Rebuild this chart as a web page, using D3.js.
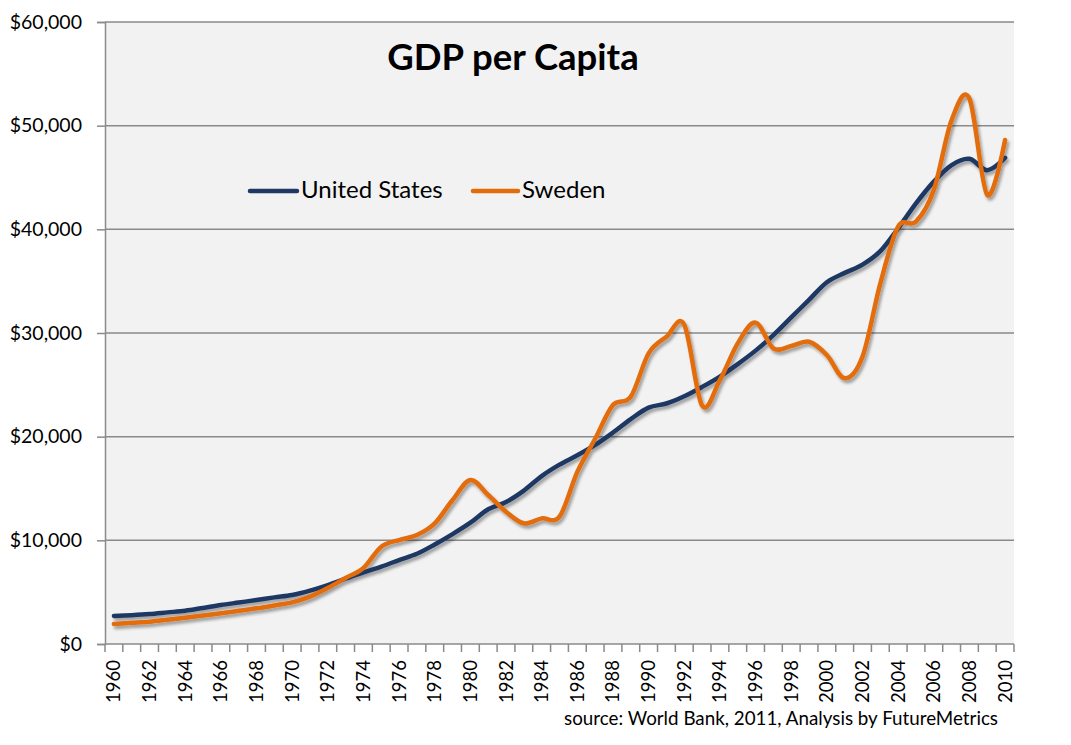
<!DOCTYPE html>
<html>
<head>
<meta charset="utf-8">
<script src="https://cdn.jsdelivr.net/npm/d3@7"></script>
<style>
  html, body { margin: 0; padding: 0; background: #ffffff; }
  svg { display: block; }
  text { font-family: Lato, "Noto Sans", sans-serif; fill: #000; }
</style>
</head>
<body>
<svg id="chart" width="1071" height="745"></svg>
<script>
const years = d3.range(1960, 2011);
const yTickValues = [0, 10000, 20000, 30000, 40000, 50000, 60000];
const xTickLabels = years.filter(y => (y - 1960) % 2 === 0);

const unitedStates = [
  2700, 2780, 2890, 3050, 3210, 3480, 3760, 4000, 4240, 4500,
  4730, 5150, 5690, 6300, 6900, 7460, 8100, 8700, 9600, 10600,
  11700, 13000, 13700, 14800, 16200, 17300, 18200, 19200, 20400, 21700,
  22800, 23200, 23900, 24800, 25800, 27000, 28300, 29800, 31500, 33200,
  34900, 35800, 36600, 37900, 40100, 42500, 44600, 46200, 46800, 45700,
  46900
];
const sweden = [
  1930, 2040, 2150, 2340, 2540, 2750, 2960, 3200, 3440, 3720,
  4020, 4570, 5400, 6370, 7330, 9390, 10030, 10510, 11640, 13890,
  15820, 14370, 12760, 11640, 12120, 12280, 16600, 19800, 23050, 23860,
  28040, 29640, 30800, 23000, 25470, 29000, 31000, 28520, 28740, 29160,
  27880, 25630, 27720, 34790, 40260, 40740, 43790, 50540, 52600, 43310,
  48620
];
const seriesNames = ["United States", "Sweden"];
const seriesColors = ["#1F3864", "#E36C0A"];
const series = [unitedStates, sweden];

const svg = d3.select("#chart");
const plot = { left: 105, right: 1014, top: 22, bottom: 644 };

const x = d3.scaleBand().domain(years).range([plot.left, plot.right]).padding(0);
const y = d3.scaleLinear().domain([0, 60000]).range([plot.bottom, plot.top]);

const defs = svg.append("defs");
const f = defs.append("filter").attr("id", "shadow")
  .attr("x", "-5%").attr("y", "-5%").attr("width", "110%").attr("height", "110%");
f.append("feDropShadow").attr("dx", 2).attr("dy", 3).attr("stdDeviation", 1.6)
  .attr("flood-color", "#000").attr("flood-opacity", 0.35);

// plot background
svg.append("rect").attr("x", plot.left).attr("y", plot.top)
  .attr("width", plot.right - plot.left).attr("height", plot.bottom - plot.top)
  .attr("fill", "#F2F2F2");

// gridlines
svg.append("g").selectAll("line").data(yTickValues.filter(v => v > 0)).join("line")
  .attr("x1", plot.left).attr("x2", plot.right)
  .attr("y1", d => y(d)).attr("y2", d => y(d))
  .attr("stroke", "#8A8A8A").attr("stroke-width", 1.5);

// y axis
const fmt = d => "$" + d3.format(",")(d);
const yAxis = svg.append("g").attr("transform", `translate(${plot.left},0)`)
  .call(d3.axisLeft(y).tickValues(yTickValues).tickFormat(fmt).tickSize(8).tickPadding(15));
yAxis.select(".domain").attr("stroke", "#8A8A8A").attr("stroke-width", 1.5);
yAxis.selectAll(".tick line").attr("stroke", "#8A8A8A").attr("stroke-width", 1.5);
yAxis.selectAll("text").style("font-family", "Lato, sans-serif").style("font-size", "19.5px")
  .attr("fill", "#000");

// x axis (ticks at band boundaries)
const xAxisG = svg.append("g");
const boundaries = years.map(d => x(d)).concat([plot.right]);
xAxisG.append("line").attr("x1", plot.left).attr("x2", plot.right)
  .attr("y1", plot.bottom).attr("y2", plot.bottom)
  .attr("stroke", "#8A8A8A").attr("stroke-width", 1.5);
xAxisG.selectAll("line.tk").data(boundaries).join("line").attr("class", "tk")
  .attr("x1", d => d).attr("x2", d => d)
  .attr("y1", plot.bottom).attr("y2", plot.bottom + 8)
  .attr("stroke", "#8A8A8A").attr("stroke-width", 1.5);
xAxisG.selectAll("text").data(xTickLabels).join("text")
  .attr("transform", d => `translate(${x(d) + x.bandwidth() / 2 + 6.5},${plot.bottom + 16}) rotate(-90)`)
  .attr("text-anchor", "end")
  .style("font-size", "18.5px")
  .text(d => d);

// lines
const line = d3.line()
  .x((d, i) => x(years[i]) + x.bandwidth() / 2)
  .y(d => y(d))
  .curve(d3.curveCardinal.tension(0));

svg.append("g").attr("filter", "url(#shadow)").selectAll("path").data(series).join("path")
  .attr("d", d => line(d))
  .attr("fill", "none")
  .attr("stroke", (d, i) => seriesColors[i])
  .attr("stroke-width", 4.5)
  .attr("stroke-linejoin", "round")
  .attr("stroke-linecap", "round");

// title
svg.append("text").attr("x", 513).attr("y", 70).attr("text-anchor", "middle")
  .style("font-size", "36.5px").style("font-weight", "bold")
  .text("GDP per Capita");

// legend
const legendPos = [{ x1: 250, x2: 297 }, { x1: 473, x2: 518 }];
const lg = svg.append("g");
seriesNames.forEach((name, i) => {
  lg.append("line").attr("x1", legendPos[i].x1).attr("x2", legendPos[i].x2)
    .attr("y1", 191).attr("y2", 191)
    .attr("stroke", seriesColors[i]).attr("stroke-width", 4.5).attr("stroke-linecap", "round");
  lg.append("text").attr("x", legendPos[i].x2 + 4).attr("y", 198)
    .style("font-size", "24px").text(name);
});

// source
svg.append("text").attr("x", 998).attr("y", 725).attr("text-anchor", "end")
  .style("font-size", "18.8px")
  .text("source: World Bank, 2011, Analysis by FutureMetrics");
</script>
</body>
</html>
